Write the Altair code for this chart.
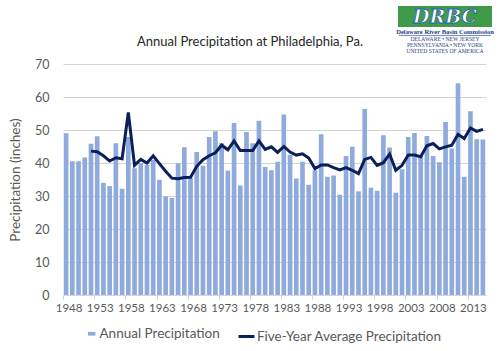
import altair as alt
import pandas as pd

years = list(range(1948, 2016))
annual = [49.0, 40.5, 40.5, 41.7, 45.8, 48.1, 34.0, 33.0, 46.0, 32.2,
          47.9, 38.4, 39.9, 39.4, 41.0, 34.9, 29.9, 29.4, 39.9, 44.8,
          35.4, 43.3, 39.2, 47.9, 49.6, 46.0, 37.7, 52.1, 33.2, 49.4,
          46.0, 52.8, 38.8, 37.8, 40.4, 54.7, 42.5, 35.3, 40.4, 33.4,
          37.8, 48.7, 35.8, 36.2, 30.4, 42.1, 44.9, 31.4, 56.4, 32.5,
          31.6, 48.4, 44.7, 31.0, 38.1, 47.9, 49.1, 42.2, 48.2, 42.1,
          40.2, 52.4, 44.4, 64.2, 35.8, 55.7, 47.2, 47.1]
avg_years = list(range(1952, 2016))
five_year = [43.6, 43.4, 42.2, 40.6, 41.6, 41.3, 55.3, 39.3, 41.1, 40.0,
             42.2, 39.8, 37.5, 35.4, 35.2, 35.6, 35.7, 39.0, 41.0, 42.2,
             43.1, 45.4, 44.0, 46.7, 43.8, 43.8, 43.8, 46.7, 44.1, 44.9,
             43.2, 45.0, 43.3, 42.4, 42.8, 41.5, 38.3, 39.4, 39.4, 38.6,
             37.9, 38.6, 37.8, 36.8, 41.1, 41.7, 39.3, 40.1, 42.7, 37.8,
             39.3, 42.4, 42.4, 41.9, 45.2, 45.9, 44.3, 44.9, 45.4, 48.7,
             47.4, 50.6, 49.6, 50.2]
label_years = list(range(1948, 2016, 5))
y_ticks = [0, 10, 20, 30, 40, 50, 60, 70]
title_text = "Annual Precipitation at Philadelphia, Pa."
logo_texts = ["DELAWARE   \u2022   NEW JERSEY", "PENNSYLVANIA \u2022 NEW YORK", "UNITED STATES OF AMERICA"]

FONT = "Lato"
TXT = "#595959"
GRID = "#d4d4d4"

bars_df = pd.DataFrame({"year": years, "value": annual, "series": "Annual Precipitation"})
line_df = pd.DataFrame({"year": avg_years, "value": five_year, "series": "Five-Year Average Precipitation"})

y_scale = alt.Scale(domain=[0, 70], nice=False)
x_enc = alt.X("year:O", scale=alt.Scale(domain=years, paddingInner=0.25, paddingOuter=0.125),
              axis=alt.Axis(values=label_years, bandPosition=0, labelOffset=3, labelAngle=0,
                            title=None, tickSize=4, tickColor=GRID, domainColor=GRID,
                            labelColor=TXT, labelFont=FONT, labelFontSize=11.5, labelPadding=3,
                            grid=False, labelOverlap=False))
y_enc = alt.Y("value:Q", scale=y_scale,
              axis=alt.Axis(values=y_ticks, title="Precipitation (inches)", grid=True,
                            gridColor=GRID, gridWidth=1,
                            ticks=False, domain=False,
                            labelPadding=14, labelOverlap=False,
                            labelColor=TXT, labelFont=FONT, labelFontSize=12.5,
                            titleFont=FONT, titleFontSize=13.5, titleFontWeight="normal",
                            titleColor=TXT, titlePadding=12))

bars = alt.Chart(bars_df).mark_bar(color="#8faadc").encode(
    x=x_enc, y=y_enc,
    color=alt.Color("series:N", scale=alt.Scale(domain=["Annual Precipitation"], range=["#8faadc"]),
                    legend=alt.Legend(orient="none", legendX=22, legendY=263, title=None,
                                      symbolType="M-1,-0.5H1V0.5H-1Z", symbolSize=56,
                                      symbolStrokeWidth=0, labelFont=FONT, labelFontSize=13.5,
                                      labelColor=TXT, labelOffset=1, padding=0, labelLimit=300)),
)

line = alt.Chart(line_df).mark_line(strokeWidth=3).encode(
    x=x_enc, y=y_enc,
    stroke=alt.Stroke("series:N", scale=alt.Scale(domain=["Five-Year Average Precipitation"], range=["#0b1f5c"]),
                      legend=alt.Legend(orient="none", legendX=174, legendY=263, title=None,
                                        symbolType="stroke", symbolSize=256, symbolStrokeWidth=3,
                                        labelFont=FONT, labelFontSize=13.5, labelColor=TXT,
                                        labelOffset=1, padding=0, labelLimit=300)),
)

one = pd.DataFrame({"a": [0]})
title_mark = alt.Chart(one).mark_text(text=title_text, font=FONT, fontSize=13, color="#262626").encode(
    x=alt.value(187), y=alt.value(-22))
logo_bg = alt.Chart(one).mark_rect(color="#3f9a4a").encode(
    x=alt.value(335), x2=alt.value(429), y=alt.value(-58), y2=alt.value(-37))
logo_wave = alt.Chart(one).mark_text(text="DRBC", font="DejaVu Serif", fontSize=19, fontWeight="bold",
                                     fontStyle="italic", color="#ffffff", stroke="#2b5fa8",
                                     strokeWidth=0.8).encode(
    x=alt.value(382), y=alt.value(-47))
logo_name = alt.Chart(one).mark_text(text="Delaware River Basin Commission", font="Liberation Serif",
                                     fontSize=6.6, fontWeight="bold", color="#1f3f8a").encode(
    x=alt.value(382), y=alt.value(-32))
logo_rule = alt.Chart(one).mark_rule(color="#1f3f8a", strokeWidth=0.6).encode(
    x=alt.value(336), x2=alt.value(428), y=alt.value(-28.5))
logo_lines = []
for i, t in enumerate(logo_texts):
    logo_lines.append(alt.Chart(one).mark_text(text=t, font="Liberation Serif", fontSize=5.6,
                                               color="#1f3f8a").encode(
        x=alt.value(382), y=alt.value(-25 + 6 * i)))

chart = alt.layer(bars, line, title_mark, logo_bg, logo_wave, logo_name, logo_rule, *logo_lines).resolve_scale(
    color="independent", stroke="independent"
).properties(
    width=423, height=231,
    autosize=alt.AutoSizeParams(type="none"),
    padding={"left": 63, "top": 64, "right": 14, "bottom": 56},
).configure(background="white").configure_view(stroke=None)

chart.save("out.html", embed_options={"renderer": "svg", "actions": False})
